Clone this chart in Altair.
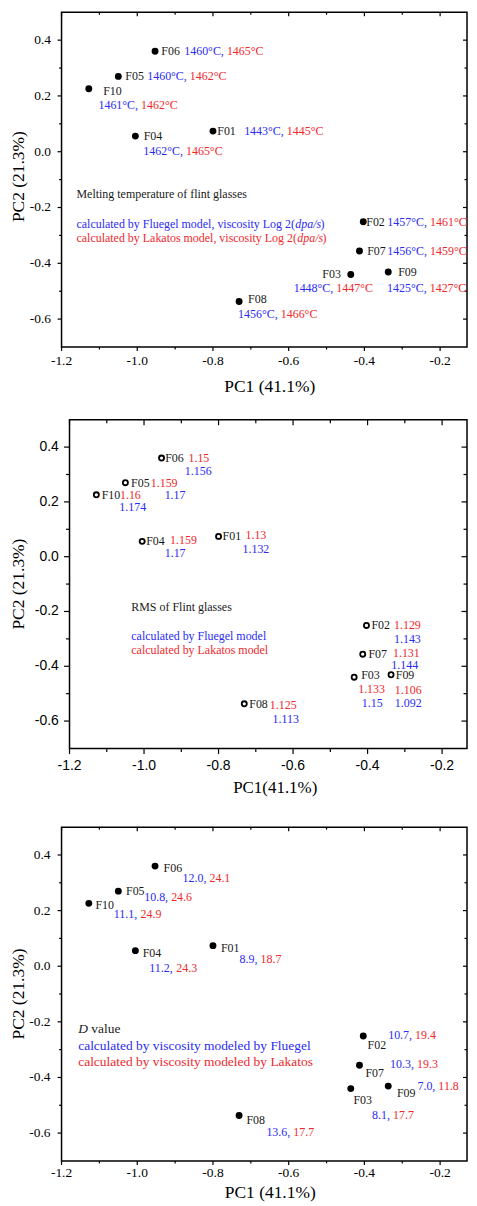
import altair as alt
import pandas as pd

# ---------------- data ----------------
samples = ["F01", "F02", "F03", "F04", "F05", "F06", "F07", "F08", "F09", "F10"]
pc1 = [-0.800, -0.403, -0.436, -1.005, -1.050, -0.953, -0.413, -0.731, -0.337, -1.128]
pc2 = [0.074, -0.251, -0.440, 0.056, 0.270, 0.360, -0.356, -0.537, -0.431, 0.226]

melt_fluegel = [1443, 1457, 1448, 1462, 1460, 1460, 1456, 1456, 1425, 1461]
melt_lakatos = [1445, 1461, 1447, 1465, 1462, 1465, 1459, 1466, 1427, 1462]

rms_fluegel = ["1.132", "1.143", "1.15", "1.17", "1.17", "1.156", "1.144", "1.113", "1.092", "1.174"]
rms_lakatos = ["1.13", "1.129", "1.133", "1.159", "1.159", "1.15", "1.131", "1.125", "1.106", "1.16"]

d_fluegel = [8.9, 10.7, 8.1, 11.2, 10.8, 12.0, 10.3, 13.6, 7.0, 11.1]
d_lakatos = [18.7, 19.4, 17.7, 24.3, 24.6, 24.1, 19.3, 17.7, 11.8, 24.9]

x_major = [-1.2, -1.0, -0.8, -0.6, -0.4, -0.2]
x_minor = [-1.1, -0.9, -0.7, -0.5, -0.3, -0.1]
y_major = [-0.6, -0.4, -0.2, 0.0, 0.2, 0.4]
y_minor = [-0.5, -0.3, -0.1, 0.1, 0.3]
y_domain = [-0.7, 0.5]

x_title_a = "PC1 (41.1%)"
x_title_b = "PC1(41.1%)"
y_title = "PC2 (21.3%)"

# ---------------- styling / layout ----------------
BLUE = "#2b2bf2"
RED = "#f0282c"
BLACK = "#1a1a1a"
SERIF = "Liberation Serif"
SANS = "Liberation Sans"

PLOT_W = 407          # plot width in pixels (kept inside the page width)
P13_PPU = 380         # pixels per PC1 unit, panels 1 and 3
P2_PPU = 374          # pixels per PC1 unit, panel 2
P2_SHIFT = 8          # panel 2 frame sits 8 px further right

x_domain = [x_major[0], x_major[0] + PLOT_W / P13_PPU]
x_dom2 = [x_major[0] - P2_SHIFT / P2_PPU, x_major[0] - P2_SHIFT / P2_PPU + PLOT_W / P2_PPU]

TIMES = {
    "a": .444, "b": .5, "c": .444, "d": .5, "e": .444, "f": .333, "g": .5, "h": .5,
    "i": .278, "j": .278, "k": .5, "l": .278, "m": .778, "n": .5, "o": .5, "p": .5,
    "q": .5, "r": .333, "s": .389, "t": .278, "u": .5, "v": .5, "w": .722, "x": .5,
    "y": .5, "z": .444, "F": .556, "L": .611, "M": .889, "R": .667, "S": .556,
    "C": .667, "D": .722, " ": .25, ",": .25, ".": .25, "(": .333, ")": .333,
    "/": .278, "\u00b0": .4, "%": .833, "-": .333,
}


def tw(s, size):
    return sum(TIMES.get(ch, 0.5) for ch in s) * size


def inside(vals, dom):
    return [v for v in vals if dom[0] - 1e-9 <= v <= dom[1] + 1e-9]


# label offsets (pixels from the point): name, first value, second value
p1_name = {"F01": (4.3, 0), "F02": (3, 0), "F03": (-28.6, 0), "F04": (8.3, 0.4),
           "F05": (7, 0), "F06": (6.3, 0), "F07": (7.7, 0), "F08": (9, -2.3),
           "F09": (10, 0), "F10": (14.4, 2.3)}
p1_blue = {"F01": (31.3, 0), "F02": (24.2, 0), "F03": (-57.3, 13.7), "F04": (8, 15.4),
           "F05": (29, 0), "F06": (29.3, 0), "F07": (28, 0), "F08": (-1, 12.7),
           "F09": (-1.2, 16.3), "F10": (9.7, 16.3)}

p2_name = {"F01": (4, 0), "F02": (5, 0), "F03": (7, -2), "F04": (4, 0), "F05": (5.7, 0),
           "F06": (3.7, 0), "F07": (5.7, 0), "F08": (5, 0), "F09": (4.7, 0), "F10": (5.4, 0)}
p2_red = {"F01": (27, -1.4), "F02": (27.6, -0.7), "F03": (4, 12.3), "F04": (28, -1),
          "F05": (25.4, 0), "F06": (27, 0), "F07": (30.3, -1), "F08": (25.7, 1.7),
          "F09": (3.7, 15), "F10": (23.7, 0)}
p2_blue = {"F01": (24, 12.6), "F02": (27.6, 13.6), "F03": (7.6, 25.6), "F04": (22.6, 11.7),
           "F05": (39.4, 12.3), "F06": (23.3, 13), "F07": (28.7, 10.7), "F08": (28.3, 15),
           "F09": (3.7, 28.3), "F10": (23, 12.4)}

p3_name = {"F01": (8, 2.3), "F02": (4.3, 9), "F03": (2.7, 11.7), "F04": (7.3, 2.4),
           "F05": (7.7, 0), "F06": (8.6, 1.7), "F07": (6, 8), "F08": (7.4, 4.3),
           "F09": (8.7, 6.7), "F10": (6.7, 1.6)}
p3_blue = {"F01": (26.7, 13.7), "F02": (25, -1.3), "F03": (21.4, 26.7), "F04": (14, 17.4),
           "F05": (26, 6.4), "F06": (27.6, 11.7), "F07": (30.7, -1.6), "F08": (27.4, 16.7),
           "F09": (29.3, -0.3), "F10": (25, 10.6)}

LABEL_SIZE = 12


def label_rows_inline(blue_txt, red_txt, name_off, blue_off):
    rows = []
    for i, s in enumerate(samples):
        nx, ny = name_off[s]
        bx, by = blue_off[s]
        rows.append(dict(pc1=pc1[i], pc2=pc2[i], text=s, color=BLACK, dx=nx, dy=ny))
        rows.append(dict(pc1=pc1[i], pc2=pc2[i], text=blue_txt[i], color=BLUE, dx=bx, dy=by))
        rx = bx + tw(blue_txt[i] + " ", LABEL_SIZE)
        rows.append(dict(pc1=pc1[i], pc2=pc2[i], text=red_txt[i], color=RED, dx=rx, dy=by))
    return pd.DataFrame(rows)


def label_rows_stacked(blue_txt, red_txt, name_off, red_off, blue_off):
    rows = []
    for i, s in enumerate(samples):
        for txt, col, off in ((s, BLACK, name_off[s]), (red_txt[i], RED, red_off[s]),
                              (blue_txt[i], BLUE, blue_off[s])):
            rows.append(dict(pc1=pc1[i], pc2=pc2[i], text=txt, color=col, dx=off[0], dy=off[1]))
    return pd.DataFrame(rows)


def note_rows(x, lines, size):
    rows = []
    for y, parts in lines:
        dx = 0.0
        for txt, col, italic in parts:
            stripped = txt.lstrip(" ")
            dx += tw(txt[: len(txt) - len(stripped)], size)
            rows.append(dict(x=x, y=y, text=stripped, color=col, dx=dx, italic=italic))
            dx += tw(stripped, size)
    return pd.DataFrame(rows)


def tick_rules(vals, channel, scale, left, w, h, side, length):
    df = pd.DataFrame({"v": vals})
    r = alt.Chart(df).mark_rule(color="black", strokeWidth=1.2)
    if channel == "x":
        y0, y1 = (h, h + length) if side == "bottom" else (0, length)
        return r.encode(x=alt.X("v:Q", scale=scale, axis=None),
                        y=alt.value(y0), y2=alt.value(y1))
    x0, x1 = (left, left - length) if side == "left" else (w, w - length)
    return r.encode(y=alt.Y("v:Q", scale=scale, axis=None),
                    x=alt.value(x0), x2=alt.value(x1))


def fmt_tick(v):
    return f"{v:.1f}".replace("-0.0", "0.0")


def make_panel(labels, notes, note_size, *, x_dom, frame_left, width, height, filled,
               tick_font, tick_size, major, minor, xlab_y, ylab_x, xtitle_x, xtitle_y,
               ytitle_x, ytitle_dy, x_title, x_title_size):
    xs = alt.Scale(domain=x_dom, nice=False, zero=False)
    ys = alt.Scale(domain=y_domain, nice=False, zero=False)
    x_maj_in, x_min_in = inside(x_major, x_dom), inside(x_minor, x_dom)
    y_maj_in, y_min_in = inside(y_major, y_domain), inside(y_minor, y_domain)

    pts = pd.DataFrame(dict(sample=samples, pc1=pc1, pc2=pc2))
    base = alt.Chart(pts)
    if filled:
        pmark = base.mark_circle(size=48, color="black", opacity=1)
    else:
        pmark = base.mark_point(size=26, filled=False, color="black", strokeWidth=1.8, opacity=1)
    main = pmark.encode(x=alt.X("pc1:Q", scale=xs, axis=None),
                        y=alt.Y("pc2:Q", scale=ys, axis=None))

    # plot frame (from the left axis value to the right end of the x domain)
    frame = alt.Chart(pd.DataFrame({"x1": [x_major[0]], "x2": [x_dom[1]],
                                    "y1": [y_domain[0]], "y2": [y_domain[1]]})).mark_rect(
        fillOpacity=0, stroke="black", strokeWidth=1.5
    ).encode(x=alt.X("x1:Q", scale=xs, axis=None), x2="x2:Q",
             y=alt.Y("y1:Q", scale=ys, axis=None), y2="y2:Q")

    ticks = []
    for side in ("bottom", "top"):
        ticks.append(tick_rules(x_maj_in, "x", xs, frame_left, width, height, side, major))
        ticks.append(tick_rules(x_min_in, "x", xs, frame_left, width, height, side, minor))
    for side in ("left", "right"):
        ticks.append(tick_rules(y_maj_in, "y", ys, frame_left, width, height, side, major))
        ticks.append(tick_rules(y_min_in, "y", ys, frame_left, width, height, side, minor))

    # tick labels and axis titles
    xl = alt.Chart(pd.DataFrame({"v": x_maj_in, "t": [fmt_tick(v) for v in x_maj_in]})).mark_text(
        align="center", baseline="middle", font=tick_font, fontSize=tick_size, color="black"
    ).encode(x=alt.X("v:Q", scale=xs, axis=None), y=alt.value(height + xlab_y), text="t:N")
    yl = alt.Chart(pd.DataFrame({"v": y_maj_in, "t": [fmt_tick(v) for v in y_maj_in]})).mark_text(
        align="right", baseline="middle", font=tick_font, fontSize=tick_size, color="black"
    ).encode(y=alt.Y("v:Q", scale=ys, axis=None), x=alt.value(frame_left + ylab_x), text="t:N")
    xt = alt.Chart(pd.DataFrame({"t": [x_title]})).mark_text(
        align="center", baseline="middle", font=SERIF, fontSize=x_title_size, color="black"
    ).encode(x=alt.value(xtitle_x), y=alt.value(height + xtitle_y), text="t:N")
    yt = alt.Chart(pd.DataFrame({"t": [y_title]})).mark_text(
        align="center", baseline="middle", font=SERIF, fontSize=17.5, color="black", angle=270
    ).encode(x=alt.value(ytitle_x), y=alt.value(height / 2 + ytitle_dy), text="t:N")

    lab = alt.Chart(labels).mark_text(
        align="left", baseline="middle", font=SERIF, fontSize=LABEL_SIZE,
        dx={"expr": "datum.dx"}, dy={"expr": "datum.dy"}
    ).encode(x=alt.X("pc1:Q", scale=xs, axis=None), y=alt.Y("pc2:Q", scale=ys, axis=None),
             text="text:N", color=alt.Color("color:N", scale=None))

    layers = [frame, main] + ticks + [xl, yl, xt, yt, lab]
    for italic in (False, True):
        sub = notes[notes["italic"] == italic]
        if len(sub) == 0:
            continue
        layers.append(alt.Chart(sub).mark_text(
            align="left", baseline="middle", font=SERIF, fontSize=note_size,
            fontStyle="italic" if italic else "normal", dx={"expr": "datum.dx"}
        ).encode(x=alt.X("x:Q", scale=xs, axis=None), y=alt.Y("y:Q", scale=ys, axis=None),
                 text="text:N", color=alt.Color("color:N", scale=None)))

    return alt.layer(*layers).properties(width=width, height=height)


# ---- panel 1: melting temperature ----
blue1 = [f"{v}\u00b0C," for v in melt_fluegel]
red1 = [f"{v}\u00b0C" for v in melt_lakatos]
labels1 = label_rows_inline(blue1, red1, p1_name, p1_blue)
notes1 = note_rows(-1.1605, [
    (-0.151, [("Melting temperature of flint glasses", BLACK, False)]),
    (-0.258, [("calculated by Fluegel model, viscosity Log 2(", BLUE, False),
              ("dpa/s", BLUE, True), (")", BLUE, False)]),
    (-0.311, [("calculated by Lakatos model, viscosity Log 2(", RED, False),
              ("dpa/s", RED, True), (")", RED, False)]),
], 12)
panel1 = make_panel(labels1, notes1, 12, x_dom=x_domain, frame_left=0, width=PLOT_W, height=336,
                    filled=True, tick_font=SERIF, tick_size=13.5, major=4, minor=2.5,
                    xlab_y=14.3, ylab_x=-10.5, xtitle_x=209, xtitle_y=40.5,
                    ytitle_x=-42.5, ytitle_dy=-3, x_title=x_title_a, x_title_size=17.5)

# ---- panel 2: RMS ----
labels2 = label_rows_stacked(rms_fluegel, rms_lakatos, p2_name, p2_red, p2_blue)
notes2 = note_rows(-1.0342, [
    (-0.1844, [("RMS of Flint glasses", BLACK, False)]),
    (-0.2898, [("calculated by Fluegel model", BLUE, False)]),
    (-0.3418, [("calculated by Lakatos model", RED, False)]),
], 12)
panel2 = make_panel(labels2, notes2, 12, x_dom=x_dom2, frame_left=P2_SHIFT, width=PLOT_W,
                    height=330, filled=False, tick_font=SANS, tick_size=14, major=5.5, minor=3.5,
                    xlab_y=18, ylab_x=-10.7, xtitle_x=214.5, xtitle_y=40,
                    ytitle_x=-42.5, ytitle_dy=0, x_title=x_title_b, x_title_size=17)

# ---- panel 3: D value ----
blue3 = [f"{v:.1f}," for v in d_fluegel]
red3 = [f"{v:.1f}" for v in d_lakatos]
labels3 = label_rows_inline(blue3, red3, p3_name, p3_blue)
notes3 = note_rows(-1.156, [
    (-0.226, [("D", BLACK, True), (" value", BLACK, False)]),
    (-0.2857, [("calculated by viscosity modeled by Fluegel", BLUE, False)]),
    (-0.345, [("calculated by viscosity modeled by Lakatos", RED, False)]),
], 13.5)
panel3 = make_panel(labels3, notes3, 13.5, x_dom=x_domain, frame_left=0, width=PLOT_W, height=335,
                    filled=True, tick_font=SERIF, tick_size=13.5, major=4, minor=2.5,
                    xlab_y=12.6, ylab_x=-11, xtitle_x=209.5, xtitle_y=32,
                    ytitle_x=-42.5, ytitle_dy=0, x_title=x_title_a, x_title_size=17.5)

chart = alt.vconcat(
    alt.vconcat(panel1, panel2, spacing=21),
    panel3,
    spacing=28,
).properties(
    padding={"left": 1.75, "top": 0, "right": 0, "bottom": 0}
).configure_view(
    stroke="transparent"
)

chart.save("out.html", embed_options={"renderer": "svg", "actions": False})
